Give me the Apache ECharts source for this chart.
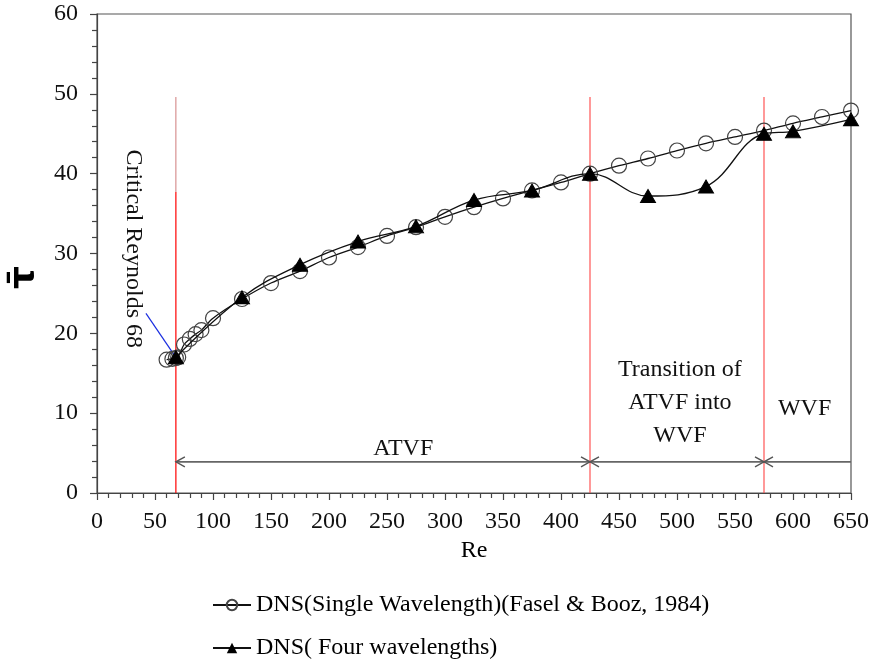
<!DOCTYPE html>
<html>
<head>
<meta charset="utf-8">
<script src="https://cdn.jsdelivr.net/npm/echarts@6/dist/echarts.min.js"></script>
<style>
  html, body { margin: 0; padding: 0; background: #fff; }
  #chart { width: 873px; height: 668px; }
</style>
</head>
<body>
<div id="chart"></div>
<script>
// Mean wavelength-averaged tau vs Reynolds number
const singleRe  = [60, 65, 68, 70, 75, 80, 85, 90, 100, 125, 150, 175, 200, 225, 250, 275, 300, 325, 350, 375, 400, 425, 450, 475, 500, 525, 550, 575, 600, 625, 650];
const singleTau = [16.7, 16.8, 16.9, 17.0, 18.6, 19.3, 19.9, 20.4, 21.9, 24.3, 26.3, 27.8, 29.5, 30.8, 32.2, 33.3, 34.6, 35.8, 36.9, 37.9, 38.9, 40.0, 41.0, 41.9, 42.9, 43.8, 44.6, 45.4, 46.3, 47.1, 47.9];
const fourRe    = [68, 125, 175, 225, 275, 325, 375, 425, 475, 525, 575, 600, 650];
const fourTau   = [17.0, 24.5, 28.6, 31.5, 33.4, 36.7, 37.9, 40.0, 37.2, 38.4, 45.0, 45.3, 46.8];

const seriesNames = ['DNS(Single Wavelength)(Fasel & Booz, 1984)', 'DNS( Four wavelengths)'];

// Flow regime boundaries (Re) and the spans between them
const regimeBounds = [68, 425, 575];
const regimeSpans  = [[68, 425], [425, 575], [575, 650]];
const regimeNames  = ['ATVF', 'Transition of\nATVF into\nWVF', 'WVF'];
const criticalLabel = 'Critical Reynolds 68';

const FONT = '"Liberation Serif", "Times New Roman", serif';
const SPAN_LEVEL = 3.9;   // tau level of the regime span arrows
const BOUND_TOP = 49.6;   // tau level where boundary lines stop

function zip(xs, ys) { return xs.map((x, i) => [x, ys[i]]); }

const chart = echarts.init(document.getElementById('chart'));

const legendText = { fontFamily: FONT, fontSize: 24, color: '#000' };

const option = {
  animation: false,
  backgroundColor: '#fff',
  grid: {
    left: 97, right: 22, top: 14, bottom: 175, containLabel: false, outerBoundsMode: 'none',
    show: true, borderColor: '#555', borderWidth: 1.2, backgroundColor: 'transparent'
  },
  xAxis: {
    type: 'value', min: 0, max: 650, interval: 50,
    name: 'Re', nameLocation: 'middle', nameGap: 46,
    nameTextStyle: { fontFamily: FONT, fontSize: 24, color: '#000' },
    axisLine: { lineStyle: { color: '#444', width: 1.2 } },
    axisTick: { length: 7, lineStyle: { color: '#444', width: 1.2 } },
    minorTick: { show: true, splitNumber: 5, length: 5, lineStyle: { color: '#444', width: 1.2 } },
    splitLine: { show: false },
    axisLabel: { fontFamily: FONT, fontSize: 24, color: '#111', margin: 17 }
  },
  yAxis: {
    type: 'value', min: 0, max: 60, interval: 10,
    name: 'τ\u0304', nameLocation: 'middle', nameGap: 49, nameRotate: 90,
    nameTextStyle: { fontFamily: '"DejaVu Sans", sans-serif', fontWeight: 'bold', fontSize: 36, color: '#000', padding: [0, 48, 0, 0] },
    axisLine: { lineStyle: { color: '#444', width: 1.2 } },
    axisTick: { length: 7, lineStyle: { color: '#444', width: 1.2 } },
    minorTick: { show: true, splitNumber: 5, length: 5, lineStyle: { color: '#444', width: 1.2 } },
    splitLine: { show: false },
    axisLabel: { fontFamily: FONT, fontSize: 24, color: '#111', margin: 19 }
  },
  legend: [
    { left: 207, top: 588, itemWidth: 38, itemHeight: 13, data: [seriesNames[0]], textStyle: legendText },
    { left: 207, top: 631, itemWidth: 38, itemHeight: 13, data: [seriesNames[1]], textStyle: legendText }
  ],
  series: [
    // regime boundary lines
    {
      type: 'custom', silent: true, z: 1,
      data: regimeBounds.map(x => [x]),
      renderItem(params, api) {
        const x = api.value(0);
        const bottom = api.coord([x, 0]);
        const top = api.coord([x, BOUND_TOP]);
        if (params.dataIndex === 0) {
          const mid = api.coord([x, 37.7]);
          return { type: 'group', children: [
            { type: 'line', shape: { x1: top[0], y1: top[1], x2: mid[0], y2: mid[1] }, style: { stroke: '#b44', lineWidth: 0.7 } },
            { type: 'line', shape: { x1: mid[0], y1: mid[1], x2: bottom[0], y2: bottom[1] }, style: { stroke: '#f00', lineWidth: 1.2 } }
          ]};
        }
        return { type: 'line', shape: { x1: top[0], y1: top[1], x2: bottom[0], y2: bottom[1] }, style: { stroke: '#f44', lineWidth: 1.1 } };
      }
    },
    // regime span arrows
    {
      type: 'custom', silent: true, z: 2,
      data: regimeSpans,
      renderItem(params, api) {
        const a = api.coord([api.value(0), SPAN_LEVEL]);
        const b = api.coord([api.value(1), SPAN_LEVEL]);
        const h = 9, w = 5;
        const stroke = { stroke: '#555', lineWidth: 1.4, fill: null };
        const kids = [
          { type: 'line', shape: { x1: a[0], y1: a[1], x2: b[0], y2: b[1] }, style: { stroke: '#666', lineWidth: 1.8 } },
          { type: 'polyline', shape: { points: [[a[0] + h, a[1] - w], [a[0], a[1]], [a[0] + h, a[1] + w]] }, style: stroke }
        ];
        if (params.dataIndex < regimeSpans.length - 1) {
          kids.push({ type: 'polyline', shape: { points: [[b[0] - h, b[1] - w], [b[0], b[1]], [b[0] - h, b[1] + w]] }, style: stroke });
        }
        return { type: 'group', children: kids };
      }
    },
    // regime names
    {
      type: 'custom', silent: true, z: 3,
      data: [[264, 5.5], [502.5, 11.3], [610, 10.6]],
      renderItem(params, api) {
        const p = api.coord([api.value(0), api.value(1)]);
        return { type: 'text', x: p[0], y: p[1], style: {
          text: regimeNames[params.dataIndex], fontFamily: FONT, fontSize: 24, fill: '#111',
          align: 'center', verticalAlign: 'middle', lineHeight: 33 } };
      }
    },
    // critical Reynolds note with leader line
    {
      type: 'custom', silent: true, z: 3,
      data: [[31, 30.6, 42.2, 22.5, 68.4, 16.9]],
      renderItem(params, api) {
        const p = api.coord([api.value(0), api.value(1)]);
        const s = api.coord([api.value(2), api.value(3)]);
        const e = api.coord([api.value(4), api.value(5)]);
        return { type: 'group', children: [
          { type: 'text', x: p[0], y: p[1], rotation: -Math.PI / 2, style: {
            text: criticalLabel, fontFamily: FONT, fontSize: 24, fill: '#111',
            align: 'center', verticalAlign: 'middle' } },
          { type: 'line', shape: { x1: s[0], y1: s[1], x2: e[0], y2: e[1] }, style: { stroke: '#1a2ee0', lineWidth: 1.2 } }
        ]};
      }
    },
    {
      name: seriesNames[0], type: 'line', z: 4,
      data: zip(singleRe, singleTau),
      smooth: 0.3,
      symbol: 'circle', symbolSize: 15,
      lineStyle: { color: '#111', width: 1.3 },
      itemStyle: { color: 'rgba(255,255,255,0)', borderColor: '#444', borderWidth: 1.2 }
    },
    {
      name: seriesNames[1], type: 'line', z: 5,
      data: zip(fourRe, fourTau),
      smooth: 0.4,
      symbol: 'triangle', symbolSize: [15, 13],
      lineStyle: { color: '#111', width: 1.3 },
      itemStyle: { color: '#000', borderColor: '#000' }
    }
  ]
};

chart.setOption(option);
</script>
</body>
</html>
